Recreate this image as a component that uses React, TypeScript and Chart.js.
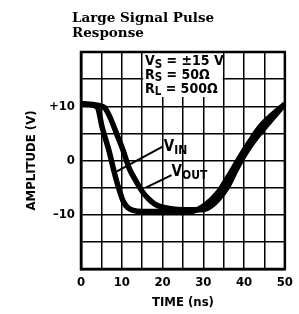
import React, { useEffect, useRef } from "react";
import { Chart, registerables } from "chart.js";

Chart.register(...registerables);

// ---- data ----
const vinTime = [0, 2, 4, 5.2, 6.9, 8.1, 9.2, 10.4, 11.5, 12.8, 15, 20, 27, 30.6, 33.6, 36, 38, 40, 42, 44, 47, 50];
const vinAmp = [10.5, 10.3, 9.8, 6.1, 1.7, -2, -5, -7.6, -8.7, -9.2, -9.4, -9.4, -9.4, -8.1, -5.9, -3.1, -0.6, 1.9, 4.2, 6.3, 8.5, 10.4];

const voutTime = [0, 4, 5.7, 7.1, 8.8, 10.4, 11.8, 13.5, 15.2, 16.6, 18.2, 20, 22, 25, 29, 31, 33.6, 36, 38, 40, 42, 44.5, 47, 50];
const voutAmp = [10.5, 10.2, 9.8, 8, 4.8, 1.7, -1.4, -3.8, -5.9, -7.1, -8.1, -8.6, -8.9, -9.1, -9.1, -8.8, -7.2, -4.8, -1.8, 0.9, 3.2, 5.6, 7.8, 10.4];

const xTickLabels = ["0", "10", "20", "30", "40", "50"];
const yTickLabels: Record<string, string> = { "10": "+10", "0": "0", "-10": "\u201310" };

const titleLines = ["Large Signal Pulse", "Response"];
const xTitle = "TIME (ns)";
const yTitle = "AMPLITUDE (V)";
const conditions: [string, string, string][] = [
  ["V", "S", " = \u00b115 V"],
  ["R", "S", " = 50\u03a9"],
  ["R", "L", " = 500\u03a9"],
];
// curve labels: [main, sub, labelT, labelV, pointerFromT, pointerFromV, pointerToT, pointerToV]
const curveLabels: [string, string, number, number, number, number, number, number][] = [
  ["V", "IN", 20.3, 2.4, 19.9, 2.5, 8.8, -2.0],
  ["V", "OUT", 22.2, -2.2, 22.2, -2.7, 15.9, -5.0],
];

const SANS = '"DejaVu Sans Condensed", "DejaVu Sans", "Liberation Sans", sans-serif';

function drawSub(ctx: CanvasRenderingContext2D, x: number, y: number, main: string, sub: string, rest: string, size: number, subSize: number) {
  ctx.textBaseline = "middle";
  ctx.textAlign = "left";
  ctx.font = `bold ${size}px ${SANS}`;
  ctx.fillText(main, x, y);
  x += ctx.measureText(main).width;
  ctx.font = `bold ${subSize}px ${SANS}`;
  ctx.fillText(sub, x, y + size * 0.22);
  x += ctx.measureText(sub).width;
  if (rest) {
    ctx.font = `bold ${size}px ${SANS}`;
    ctx.fillText(rest, x, y);
  }
}

const decorPlugin = {
  id: "decor",
  beforeDatasetsDraw(chart: any) {
    const { ctx, chartArea, scales } = chart;
    const xs = scales.x;
    const ys = scales.y;
    ctx.save();
    // white box for conditions
    const bx0 = xs.getPixelForValue(15);
    const bx1 = xs.getPixelForValue(35);
    const by1 = ys.getPixelForValue(11.7);
    ctx.fillStyle = "#fff";
    ctx.fillRect(bx0 + 1, chartArea.top + 1, bx1 - bx0 - 2, by1 - chartArea.top - 1);
    ctx.fillStyle = "#000";
    const lineV = [18.2, 15.7, 13.2];
    conditions.forEach((c, i) => {
      drawSub(ctx, xs.getPixelForValue(15.7), ys.getPixelForValue(lineV[i]), c[0], c[1], c[2], 14, 11.5);
    });
    ctx.restore();
  },
  afterDraw(chart: any) {
    const { ctx, chartArea, scales } = chart;
    const xs = scales.x;
    const ys = scales.y;
    ctx.save();
    // frame
    ctx.strokeStyle = "#000";
    ctx.lineWidth = 2.5;
    ctx.strokeRect(chartArea.left, chartArea.top, chartArea.right - chartArea.left, chartArea.bottom - chartArea.top);
    // title
    ctx.fillStyle = "#000";
    ctx.textAlign = "left";
    ctx.textBaseline = "alphabetic";
    ctx.font = `bold 13.5px "DejaVu Serif", "Liberation Serif", serif`;
    ctx.fillText(titleLines[0], 72, 22);
    ctx.fillText(titleLines[1], 72, 37);
    // axis titles
    ctx.font = `bold 13px ${SANS}`;
    ctx.textAlign = "center";
    ctx.textBaseline = "middle";
    ctx.fillText(xTitle, (chartArea.left + chartArea.right) / 2, 303);
    ctx.save();
    ctx.translate(32, (chartArea.top + chartArea.bottom) / 2);
    ctx.rotate(-Math.PI / 2);
    ctx.fillText(yTitle, 0, 0);
    ctx.restore();
    // curve labels with pointers
    ctx.lineWidth = 2;
    curveLabels.forEach((l) => {
      ctx.beginPath();
      ctx.moveTo(xs.getPixelForValue(l[4]), ys.getPixelForValue(l[5]));
      ctx.lineTo(xs.getPixelForValue(l[6]), ys.getPixelForValue(l[7]));
      ctx.stroke();
      drawSub(ctx, xs.getPixelForValue(l[2]), ys.getPixelForValue(l[3]), l[0], l[1], "", 15, 12);
    });
    ctx.restore();
  },
};

export default function App() {
  const ref = useRef<HTMLCanvasElement>(null);
  useEffect(() => {
    if (!ref.current) return;
    const chart = new Chart(ref.current, {
      type: "line",
      data: {
        datasets: [
          {
            label: "VIN",
            data: vinTime.map((t, i) => ({ x: t, y: vinAmp[i] })),
            borderColor: "#000",
            borderWidth: 5.5,
            pointRadius: 0,
            cubicInterpolationMode: "monotone",
            fill: false,
          },
          {
            label: "VOUT",
            data: voutTime.map((t, i) => ({ x: t, y: voutAmp[i] })),
            borderColor: "#000",
            borderWidth: 5.5,
            pointRadius: 0,
            cubicInterpolationMode: "monotone",
            fill: false,
          },
        ],
      },
      options: {
        animation: false,
        responsive: false,
        devicePixelRatio: 1,
        layout: { padding: { top: 52, right: 7, left: 0, bottom: 0 }, autoPadding: false },
        plugins: { legend: { display: false }, tooltip: { enabled: false }, title: { display: false } },
        scales: {
          x: {
            type: "linear",
            min: 0,
            max: 50,
            afterFit: (s: any) => { s.height = 45; },
            ticks: {
              stepSize: 5,
              autoSkip: false,
              maxRotation: 0,
              padding: 6,
              color: "#000",
              font: { family: SANS, size: 13, weight: "bold" },
              callback: (v: any) => (xTickLabels.includes(String(v)) ? String(v) : ""),
            },
            grid: { color: "#000", lineWidth: 1.5, drawTicks: false },
            border: { display: true, color: "#000", width: 2.5 },
          },
          y: {
            type: "linear",
            min: -20,
            max: 20,
            afterFit: (s: any) => { s.width = 81; },
            ticks: {
              stepSize: 5,
              autoSkip: false,
              padding: 6,
              color: "#000",
              font: { family: SANS, size: 13, weight: "bold" },
              callback: (v: any) => yTickLabels[String(v)] ?? "",
            },
            grid: { color: "#000", lineWidth: 1.5, drawTicks: false },
            border: { display: true, color: "#000", width: 2.5 },
          },
        },
      } as any,
      plugins: [decorPlugin],
    });
    return () => chart.destroy();
  }, []);
  return (
    <div style={{ position: "fixed", left: 0, top: 0, width: 299, height: 314, background: "#fff" }}>
      <canvas ref={ref} width={299} height={314} style={{ width: 299, height: 314, display: "block" }} />
    </div>
  );
}
